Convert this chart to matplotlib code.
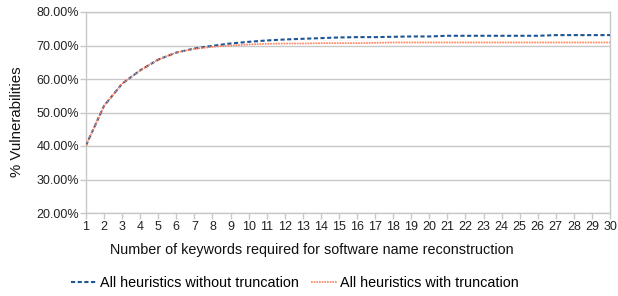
import matplotlib
matplotlib.use("Agg")
import matplotlib.pyplot as plt
from matplotlib.ticker import FuncFormatter, MultipleLocator

plt.rcParams['font.family'] = ['Liberation Sans', 'DejaVu Sans']

keywords = list(range(1, 31))
without_trunc = [40.2, 52.0, 58.6, 62.6, 65.8, 67.9, 69.1, 69.9, 70.6, 71.1,
                 71.5, 71.8, 72.0, 72.2, 72.4, 72.5, 72.5, 72.6, 72.7, 72.7,
                 72.9, 72.9, 72.9, 72.9, 72.9, 72.9, 73.1, 73.1, 73.1, 73.1]
with_trunc = [40.2, 52.0, 58.6, 62.6, 65.8, 67.9, 69.0, 69.6, 70.0, 70.3,
              70.5, 70.6, 70.6, 70.7, 70.7, 70.7, 70.8, 70.9, 70.9, 70.9,
              70.9, 70.9, 70.9, 70.9, 70.9, 70.9, 70.9, 70.9, 70.9, 70.9]
series_names = ["All heuristics without truncation", "All heuristics with truncation"]

fig = plt.figure(figsize=(6.18, 2.96), dpi=100)
ax = fig.add_axes([86/618, 1 - 213/296, (610-86)/618, (213-12)/296])

ax.plot(keywords, without_trunc, color='#1c5694', linestyle=(0, (2.0, 1.2)), linewidth=1.5,
        label=series_names[0], zorder=3)
ax.plot(keywords, with_trunc, color='#ff7f5a', linestyle=(0, (1, 0.6)), linewidth=1.2,
        label=series_names[1], zorder=3)

ax.set_xlim(1, 30)
ax.set_ylim(20, 80)
ax.set_xticks(keywords)
ax.yaxis.set_major_locator(MultipleLocator(10))
ax.yaxis.set_major_formatter(FuncFormatter(lambda v, p: f"{v:.2f}%"))
ax.grid(axis='y', color='#c8c8c8', linewidth=1)
ax.set_axisbelow(True)
for s in ax.spines.values():
    s.set_color('#c8c8c8')
    s.set_linewidth(1)
ax.tick_params(axis='both', colors='#c8c8c8', labelcolor='#222222', labelsize=9, length=4, width=1)
ax.tick_params(axis='x', pad=2)
ax.tick_params(axis='y', pad=1)

ax.set_xlabel("Number of keywords required for software name reconstruction", fontsize=10.4,
              color='#111111')
ax.xaxis.set_label_coords(0.431, -0.150)
ax.set_ylabel("% Vulnerabilities", fontsize=10.8, color='#111111')
ax.yaxis.set_label_coords(-0.118, 0.453)

fig.legend(loc='center', bbox_to_anchor=(295/618, 1 - 283/296), ncol=2, frameon=False,
           fontsize=10.4, handlelength=1.8, handletextpad=0.25, columnspacing=0.8)

fig.savefig("out.png", dpi=100)
